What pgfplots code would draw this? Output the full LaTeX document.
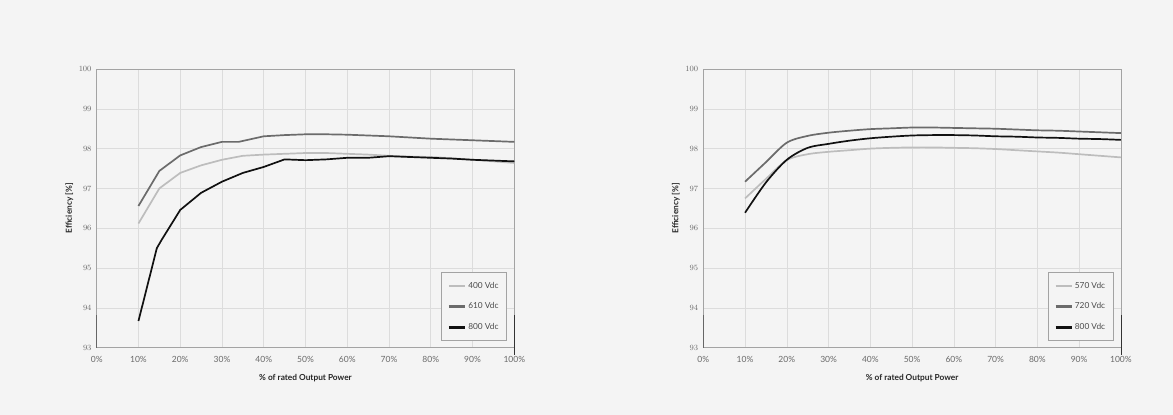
\documentclass[border=0pt]{standalone}
\usepackage{fontspec}
\setmainfont{Lato}
\usepackage{pgfplots}
\pgfplotsset{compat=1.18}
\definecolor{bg}{HTML}{F4F4F4}
\definecolor{c1}{HTML}{BDBDBD}
\definecolor{c2}{HTML}{6B6B6B}
\definecolor{c3}{HTML}{111111}
\definecolor{gridc}{HTML}{DCDCDC}
\definecolor{framec}{HTML}{A3A3A3}
\definecolor{tickc}{HTML}{6A6A6A}
\pgfplotsset{
 effaxis/.style={
  scale only axis, width=417.6pt, height=278.7pt,
  xmin=0,xmax=100,ymin=93,ymax=100,
  xtick={0,10,...,100},
  xticklabels={0\%,10\%,20\%,30\%,40\%,50\%,60\%,70\%,80\%,90\%,100\%},
  ytick={93,94,...,100},
  grid=major, major grid style={gridc, line width=0.6pt},
  axis line style={framec, line width=0.7pt},
  major tick length=0pt,
  tick label style={font=\fontsize{8.5}{10}\selectfont, text=tickc, inner sep=0pt},
  xticklabel style={anchor=center, yshift=-12pt},
  yticklabel style={anchor=east, xshift=-5pt},
  xlabel={\% of rated Output Power}, ylabel={Efficiency [\%]},
  label style={font=\bfseries\fontsize{8.3}{10}\selectfont, text=black!85},
  xlabel style={at={([yshift=-30.5pt]axis description cs:0.5,0)}, anchor=center},
  ylabel style={at={([xshift=-27.4pt]axis description cs:0,0.5)}, anchor=center},
  legend cell align=left,
  legend style={at={(rel axis cs:1,0)}, anchor=south east, xshift=-7.6pt, yshift=7pt,
    draw=framec, fill=bg, font=\fontsize{8.3}{10}\selectfont, text=black!70,
    row sep=9pt, inner xsep=6pt, inner ysep=7.5pt},
  legend image code/.code={\draw[##1, line width=2.8pt] (0pt,0pt) -- (16pt,0pt);},
  clip=false,
 }}
\begin{document}
\begin{tikzpicture}[x=1pt,y=1pt]
\useasboundingbox (0,0) rectangle (1173,415);
\fill[bg] (0,0) rectangle (1173,415);
\begin{axis}[effaxis, at={(96.7pt,67.3pt)}, anchor=south west]
\addplot[c1, line width=1.7pt] coordinates {(10,96.12) (15,97.00) (20,97.39) (25,97.58) (30,97.72) (35,97.82) (40,97.85) (45,97.87) (50,97.89) (55,97.89) (60,97.87) (65,97.85) (70,97.82) (75,97.80) (80,97.79) (85,97.76) (90,97.72) (95,97.68) (100,97.64)};
\addlegendentry{400 Vdc}
\addplot[c2, line width=1.7pt] coordinates {(10,96.56) (15,97.44) (20,97.83) (25,98.04) (30,98.17) (34,98.17) (40,98.31) (45,98.34) (50,98.36) (55,98.36) (60,98.35) (65,98.33) (70,98.31) (75,98.28) (80,98.25) (85,98.23) (90,98.21) (95,98.19) (100,98.17)};
\addlegendentry{610 Vdc}
\addplot[c3, line width=1.7pt] coordinates {(10,93.67) (14.4,95.5) (15.5,95.7) (20,96.46) (25,96.89) (30,97.17) (35,97.39) (40,97.54) (45,97.73) (50,97.71) (55,97.73) (60,97.77) (65,97.77) (70,97.81) (75,97.79) (80,97.77) (85,97.75) (90,97.72) (95,97.70) (100,97.68)};
\addlegendentry{800 Vdc}
\draw[black!60, line width=1.2pt] (axis cs:0,93) -- (axis cs:0,93.82);
\draw[black!80, line width=0.8pt] (axis cs:100,93.82) -- ([yshift=-7pt]axis cs:100,93);
\end{axis}
\begin{axis}[effaxis, at={(703.3pt,67.3pt)}, anchor=south west]
\addplot[c1, line width=1.7pt, smooth] coordinates {(10,96.75) (15,97.24) (20,97.71) (25,97.86) (30,97.92) (35,97.96) (40,98.00) (45,98.02) (50,98.03) (55,98.03) (60,98.02) (65,98.01) (70,97.99) (75,97.96) (80,97.93) (85,97.90) (90,97.86) (95,97.82) (100,97.78)};
\addlegendentry{570 Vdc}
\addplot[c2, line width=1.7pt, smooth] coordinates {(10,97.17) (15,97.66) (20,98.15) (25,98.32) (30,98.40) (35,98.45) (40,98.49) (45,98.51) (50,98.53) (55,98.53) (60,98.52) (65,98.51) (70,98.50) (75,98.48) (80,98.46) (85,98.45) (90,98.43) (95,98.41) (100,98.39)};
\addlegendentry{720 Vdc}
\addplot[c3, line width=1.7pt, smooth] coordinates {(10,96.39) (15,97.15) (20,97.72) (25,98.02) (30,98.12) (35,98.20) (40,98.26) (45,98.30) (50,98.33) (55,98.34) (60,98.34) (65,98.33) (70,98.31) (75,98.30) (80,98.28) (85,98.27) (90,98.25) (95,98.24) (100,98.22)};
\addlegendentry{800 Vdc}
\draw[black!60, line width=1.2pt] (axis cs:0,93) -- (axis cs:0,93.82);
\draw[black!80, line width=0.8pt] (axis cs:100,93.82) -- ([yshift=-7pt]axis cs:100,93);
\end{axis}
\end{tikzpicture}
\end{document}
